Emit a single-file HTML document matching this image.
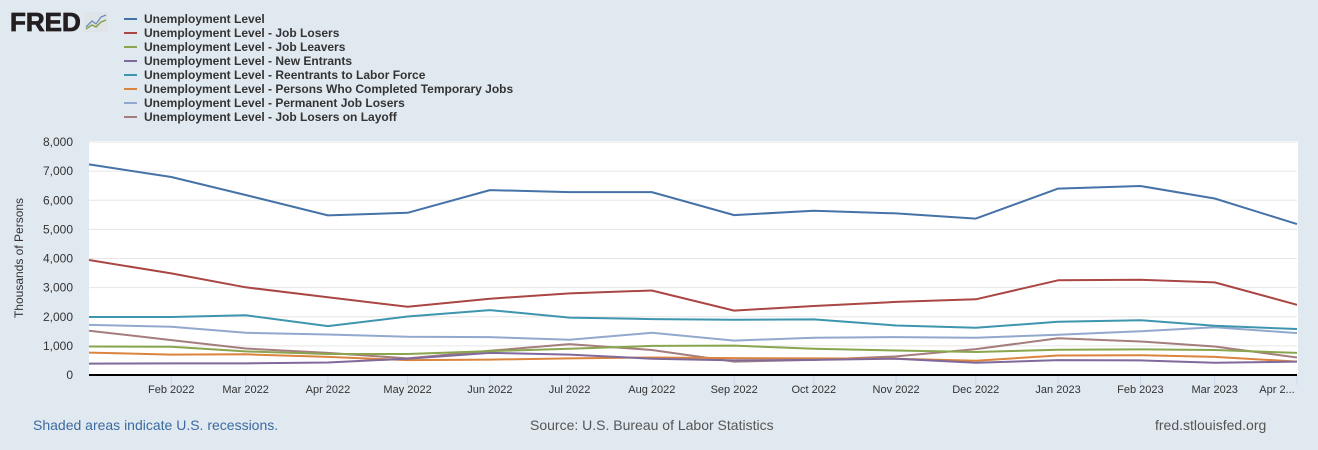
<!DOCTYPE html>
<html><head><meta charset="utf-8"><style>
body{margin:0;width:1318px;height:450px;background:#e1e9f0;font-family:"Liberation Sans",sans-serif;overflow:hidden;position:relative}
.logo{position:absolute;left:10px;top:7px;font-weight:bold;font-size:26px;color:#231f20;letter-spacing:0px;-webkit-text-stroke:0.8px #231f20}
.foot{position:absolute;top:417px;font-size:14px}
</style></head><body>
<div class="logo">FRED<svg width="24" height="20" style="vertical-align:-1px;margin-left:3px"><rect width="24" height="20" rx="2" fill="#dfe4e8"/><polyline points="2,15 8,9 12,12 17,5 22,3" fill="none" stroke="#6b8eb8" stroke-width="1.3"/><polyline points="2,17 8,13 12,15 17,10 22,8" fill="none" stroke="#7a9a3a" stroke-width="1.3"/></svg></div>
<svg id="c" width="1318" height="450" style="position:absolute;left:0;top:0"></svg>
<div class="foot" style="left:33px;color:#3b6aa0">Shaded areas indicate U.S. recessions.</div>
<div class="foot" style="left:530px;color:#555">Source: U.S. Bureau of Labor Statistics</div>
<div class="foot" style="left:1155px;color:#555">fred.stlouisfed.org</div>
<script>
const months=["2022-01","2022-02","2022-03","2022-04","2022-05","2022-06","2022-07","2022-08","2022-09","2022-10","2022-11","2022-12","2023-01","2023-02","2023-03","2023-04"];
const tickLabels=["Feb 2022","Mar 2022","Apr 2022","May 2022","Jun 2022","Jul 2022","Aug 2022","Sep 2022","Oct 2022","Nov 2022","Dec 2022","Jan 2023","Feb 2023","Mar 2023","Apr 2..."];
const yTicks=[0,1000,2000,3000,4000,5000,6000,7000,8000];
const seriesNames=["Unemployment Level","Unemployment Level - Job Losers","Unemployment Level - Job Leavers","Unemployment Level - New Entrants","Unemployment Level - Reentrants to Labor Force","Unemployment Level - Persons Who Completed Temporary Jobs","Unemployment Level - Permanent Job Losers","Unemployment Level - Job Losers on Layoff"];
const seriesColors=["#4572a7","#aa4643","#89a54e","#80699b","#3d96ae","#db843d","#92a8cd","#a47d7c"];
const sTotal=[7230,6800,6180,5480,5570,6350,6280,6280,5490,5640,5550,5370,6400,6490,6060,5180];
const sLosers=[3950,3490,3010,2670,2340,2620,2800,2900,2210,2370,2510,2600,3250,3270,3180,2410];
const sLeavers=[980,970,810,720,720,820,900,1000,1010,900,840,790,870,880,860,760];
const sNew=[390,400,400,430,560,760,700,560,500,520,560,420,510,500,420,460];
const sReentrants=[1990,1990,2050,1680,2010,2230,1970,1920,1900,1910,1700,1620,1830,1880,1690,1580];
const sTemp=[770,700,710,620,510,530,570,600,580,570,560,490,670,680,620,460];
const sPermanent=[1720,1660,1450,1390,1310,1300,1210,1450,1180,1280,1300,1280,1380,1500,1640,1440];
const sLayoff=[1520,1200,910,760,570,830,1060,860,460,520,640,890,1260,1150,980,600];
const allSeries=[sTotal,sLosers,sLeavers,sNew,sReentrants,sTemp,sPermanent,sLayoff];
const NS="http://www.w3.org/2000/svg",svg=document.getElementById('c');
const X0=89,X1=1297,Y0=375,Y1=142;
const t=m=>Date.UTC(+m.slice(0,4),+m.slice(5)-1,1);
const tA=t(months[0]),tB=t(months[months.length-1]);
const xs=m=>X0+(t(m)-tA)/(tB-tA)*(X1-X0);
const ys=v=>Y0-v/8000*(Y0-Y1);
function el(n,a,p){const e=document.createElementNS(NS,n);for(const k in a)e.setAttribute(k,a[k]);(p||svg).appendChild(e);return e;}
const plot=el('rect',{x:X0,y:141,width:X1-X0+1,height:Y0-141,fill:'#fff'});


yTicks.forEach(v=>{
 if(v>0){const g=el('line',{x1:X0,x2:X1,y1:ys(v),y2:ys(v),stroke:'#e6e6e6'});
 
 }
 const tx=el('text',{x:73,y:ys(v)+4,'text-anchor':'end','font-size':12,fill:'#333'});tx.textContent=v.toLocaleString('en-US');
 
 
});
const yt=el('text',{x:23,y:258,'text-anchor':'middle','font-size':12,fill:'#333',transform:'rotate(-90 23 258)'});yt.textContent='Thousands of Persons';


tickLabels.forEach((l,i)=>{const x=xs(months[i+1]);
 const tk=el('line',{x1:x,x2:x,y1:Y0,y2:Y0+10,stroke:'#ccd6eb'});
 
 
 const tx=el('text',{x:i==tickLabels.length-1?x-20:x,y:Y0+18,'text-anchor':'middle','font-size':11,fill:'#333'});tx.textContent=l;
 
 
});
for(let s=allSeries.length-1;s>=0;s--){
 const pts=allSeries[s].map((v,i)=>xs(months[i]).toFixed(1)+','+ys(v).toFixed(1)).join(' ');
 const pl=el('polyline',{points:pts,fill:'none',stroke:seriesColors[s],'stroke-width':2,'stroke-linejoin':'round'});
 
 
}
const ax=el('line',{x1:X0,x2:X1,y1:Y0,y2:Y0,stroke:'#000','stroke-width':2});


seriesNames.forEach((n,i)=>{const y=19+i*14;
 const g=el('g',{});
 
 
 el('line',{x1:124,x2:137,y1:y,y2:y,stroke:seriesColors[i],'stroke-width':2},g);
 const tx=el('text',{x:144,y:y+4,'font-size':12,'font-weight':'bold',fill:'#333'},g);tx.textContent=n;
});
</script>
</body></html>
